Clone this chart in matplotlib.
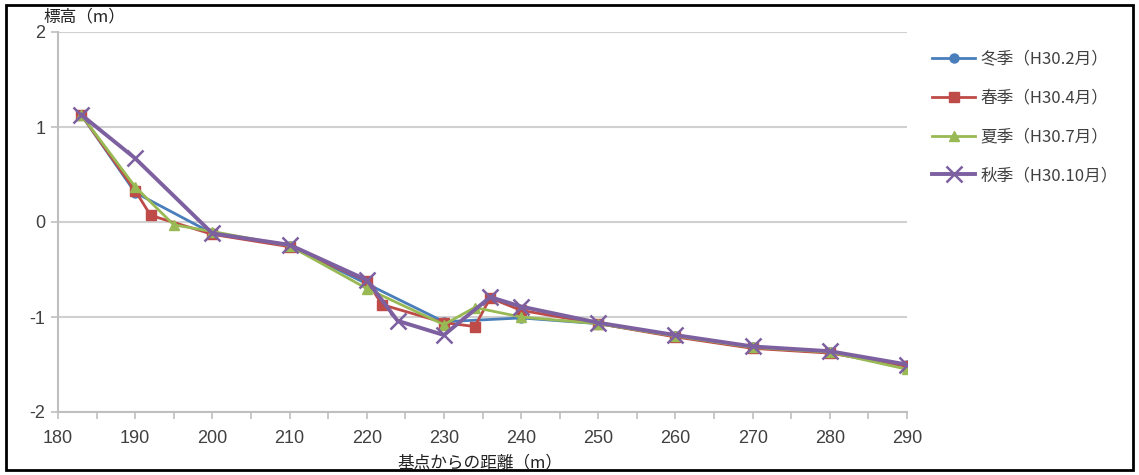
import matplotlib
matplotlib.use("Agg")
import matplotlib.pyplot as plt
from matplotlib.patches import Rectangle
from matplotlib.ticker import MultipleLocator

plt.rcParams['font.family'] = ['Noto Sans CJK JP', 'DejaVu Sans']
plt.rcParams['axes.unicode_minus'] = False

# Data
winter_x = [183, 190, 200, 210, 220, 230, 240, 250, 260, 270, 280, 290]
winter_y = [1.13, 0.31, -0.12, -0.25, -0.65, -1.05, -1.01, -1.07, -1.20, -1.32, -1.37, -1.51]
spring_x = [183, 190, 192, 200, 210, 220, 222, 230, 234, 236, 240, 250, 260, 270, 280, 290]
spring_y = [1.13, 0.33, 0.07, -0.13, -0.26, -0.62, -0.87, -1.06, -1.10, -0.80, -0.93, -1.07, -1.21, -1.33, -1.38, -1.52]
summer_x = [183, 190, 195, 200, 210, 220, 230, 234, 240, 250, 260, 270, 280, 290]
summer_y = [1.13, 0.37, -0.03, -0.10, -0.25, -0.70, -1.08, -0.90, -1.00, -1.07, -1.20, -1.32, -1.37, -1.55]
autumn_x = [183, 190, 200, 210, 220, 224, 230, 236, 240, 250, 260, 270, 280, 290]
autumn_y = [1.13, 0.67, -0.12, -0.24, -0.61, -1.04, -1.19, -0.79, -0.89, -1.06, -1.19, -1.31, -1.36, -1.50]

labels = ['冬季（H30.2月）', '春季（H30.4月）', '夏季（H30.7月）', '秋季（H30.10月）']
xticks = [180, 190, 200, 210, 220, 230, 240, 250, 260, 270, 280, 290]
yticks = [-2, -1, 0, 1, 2]

fig = plt.figure(figsize=(11.39, 4.75), dpi=100)
ax = fig.add_axes([58/1139, 1 - 412/475, (907 - 58)/1139, (412 - 32)/475])

ax.plot(winter_x, winter_y, color='#4A7EBB', lw=2, marker='o', ms=6.5, label=labels[0], zorder=3)
ax.plot(spring_x, spring_y, color='#BE4B48', lw=2, marker='s', ms=6.5, label=labels[1], zorder=4)
ax.plot(summer_x, summer_y, color='#98B954', lw=2, marker='^', ms=7, label=labels[2], zorder=5)
ax.plot(autumn_x, autumn_y, color='#7D60A0', lw=2.8, marker='x', ms=11, mew=1.8, label=labels[3], zorder=6)

ax.set_xlim(180, 290)
ax.set_ylim(-2, 2)
ax.set_xticks(xticks)
ax.set_yticks(yticks)
ax.xaxis.set_minor_locator(MultipleLocator(5))
ax.grid(axis='y', color='#D0D0D0', lw=1.5, zorder=0)
for s in ['top', 'right']:
    ax.spines[s].set_visible(False)
ax.spines['left'].set_color('#BFBFBF')
ax.spines['bottom'].set_color('#BFBFBF')
ax.spines['left'].set_linewidth(1.5)
ax.spines['bottom'].set_linewidth(1.5)
ax.tick_params(axis='both', which='both', color='#BFBFBF', width=1.2)
ax.tick_params(axis='x', which='major', length=5, labelsize=13, labelcolor='#404040', pad=8)
ax.tick_params(axis='x', which='minor', length=5)
ax.tick_params(axis='y', length=5, labelsize=13, labelcolor='#404040', pad=4)
for t in ax.get_xticklabels() + ax.get_yticklabels():
    t.set_family(['Liberation Sans', 'DejaVu Sans'])

fig.text(43/1139, 1 - 17/475, '標高（m）', fontsize=12, ha='left', va='center', color='#222222')
fig.text(480/1139, 1 - 463/475, '基点からの距離（m）', fontsize=12, ha='center', va='center', color='#222222')

leg = ax.legend(loc='upper left', bbox_to_anchor=(917/1139, 1 - 36/475), bbox_transform=fig.transFigure,
                frameon=False, fontsize=12, handlelength=2.6, handletextpad=0.3, labelspacing=1.3,
                labelcolor='#404040')

fig.patches.append(Rectangle((6/1139, 5/475), 1127/1139, 465/475, transform=fig.transFigure,
                             fill=False, edgecolor='black', lw=2))

fig.savefig('out.png', dpi=100)
